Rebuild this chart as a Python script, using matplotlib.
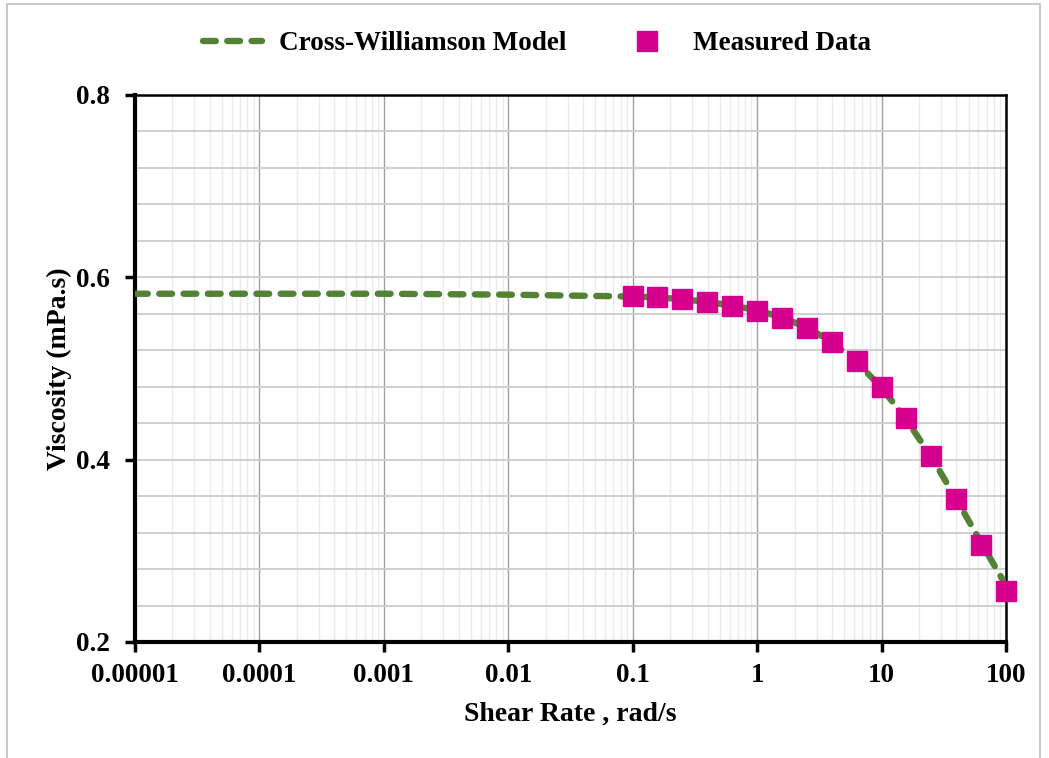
import numpy as np
import matplotlib.pyplot as plt
from matplotlib.patches import Rectangle
from matplotlib.ticker import FixedLocator, NullFormatter

# 데이터
shear_meas = [0.1, 0.158, 0.251, 0.398, 0.631, 1.0, 1.58, 2.51, 3.98, 6.31,
              10.0, 15.8, 25.1, 39.8, 63.1, 100.0]
visc_meas = [0.579, 0.578, 0.576, 0.573, 0.569, 0.563, 0.555, 0.544, 0.529, 0.508,
             0.480, 0.446, 0.404, 0.357, 0.306, 0.256]

shear_model = [1e-5, 1e-4, 1e-3, 1e-2, 0.03, 0.1, 0.158, 0.251, 0.398, 0.631, 1.0,
               1.58, 2.51, 3.98, 6.31, 10.0, 15.8, 25.1, 39.8, 63.1, 100.0]
visc_model = [0.582, 0.582, 0.582, 0.581, 0.580, 0.579, 0.578, 0.576, 0.573, 0.569,
              0.564, 0.556, 0.545, 0.529, 0.507, 0.479, 0.444, 0.403, 0.357, 0.309, 0.262]

x_ticks = [1e-5, 1e-4, 1e-3, 1e-2, 0.1, 1, 10, 100]
x_labels = ["0.00001", "0.0001", "0.001", "0.01", "0.1", "1", "10", "100"]
y_ticks = [0.2, 0.4, 0.6, 0.8]
y_labels = ["0.2", "0.4", "0.6", "0.8"]

GREEN = "#548235"
MAGENTA = "#D6008F"

plt.rcParams['font.family'] = ['Liberation Serif', 'DejaVu Serif']
plt.rcParams['font.weight'] = 'bold'

fig = plt.figure(figsize=(10.49, 7.58), dpi=100)
W, H = 1049, 758
ax = fig.add_axes([135 / W, 1 - 642 / H, 871 / W, 547 / H])

# 바깥 테두리
fig.patches.append(Rectangle((7 / W, -0.01), 1033 / W, 1 - 4 / H + 0.01,
                             transform=fig.transFigure, fill=False,
                             edgecolor="#bfbfbf", linewidth=1.2))

ax.set_xscale('log')
ax.set_xlim(1e-5, 100)
ax.set_ylim(0.2, 0.8)

# 격자
minor_x = [m * 10.0 ** e for e in range(-5, 2) for m in range(2, 10)]
ax.xaxis.set_minor_locator(FixedLocator(minor_x))
ax.xaxis.set_minor_formatter(NullFormatter())
for xm in minor_x:
    ax.axvline(xm, color="#ebebeb", lw=1.0, zorder=0)
for xM in x_ticks[1:-1]:
    ax.axvline(xM, color="#a0a0a0", lw=1.0, zorder=0.5)
for yv in np.arange(0.24, 0.8, 0.04):
    ax.axhline(yv, color="#cccccc", lw=1.3, zorder=0.6)

ax.set_xticks(x_ticks)
ax.set_xticklabels(x_labels)
ax.set_yticks(y_ticks)
ax.set_yticklabels(y_labels)
ax.tick_params(axis='both', which='major', length=7, width=2.5, labelsize=19.5,
               color='black', direction='out')
ax.tick_params(axis='x', pad=8)
ax.tick_params(axis='y', pad=11)
ax.tick_params(which='minor', length=0)

for side in ['left', 'bottom']:
    ax.spines[side].set_linewidth(3)
for side in ['top', 'right']:
    ax.spines[side].set_linewidth(1.8)

ax.plot(shear_model, visc_model, color=GREEN, lw=4.6, dashes=(2.0, 1.8),
        dash_capstyle='round', label="Cross-Williamson Model", zorder=3)
ax.plot(shear_meas, visc_meas, linestyle='none', marker='s', markersize=14.5,
        color=MAGENTA, markeredgecolor=MAGENTA, label="Measured Data", zorder=4,
        clip_on=False)

ax.set_xlabel("Shear Rate , rad/s", fontsize=20, fontweight='bold', labelpad=10)
ax.set_ylabel("Viscosity (mPa.s)", fontsize=20, fontweight='bold', labelpad=3)

leg = fig.legend(loc='center', bbox_to_anchor=(537 / W, 1 - 44 / H), ncol=2,
                 frameon=False, fontsize=19.5, handlelength=2.2, columnspacing=1.9,
                 handletextpad=0.6)

fig.savefig("out.png", dpi=100)
